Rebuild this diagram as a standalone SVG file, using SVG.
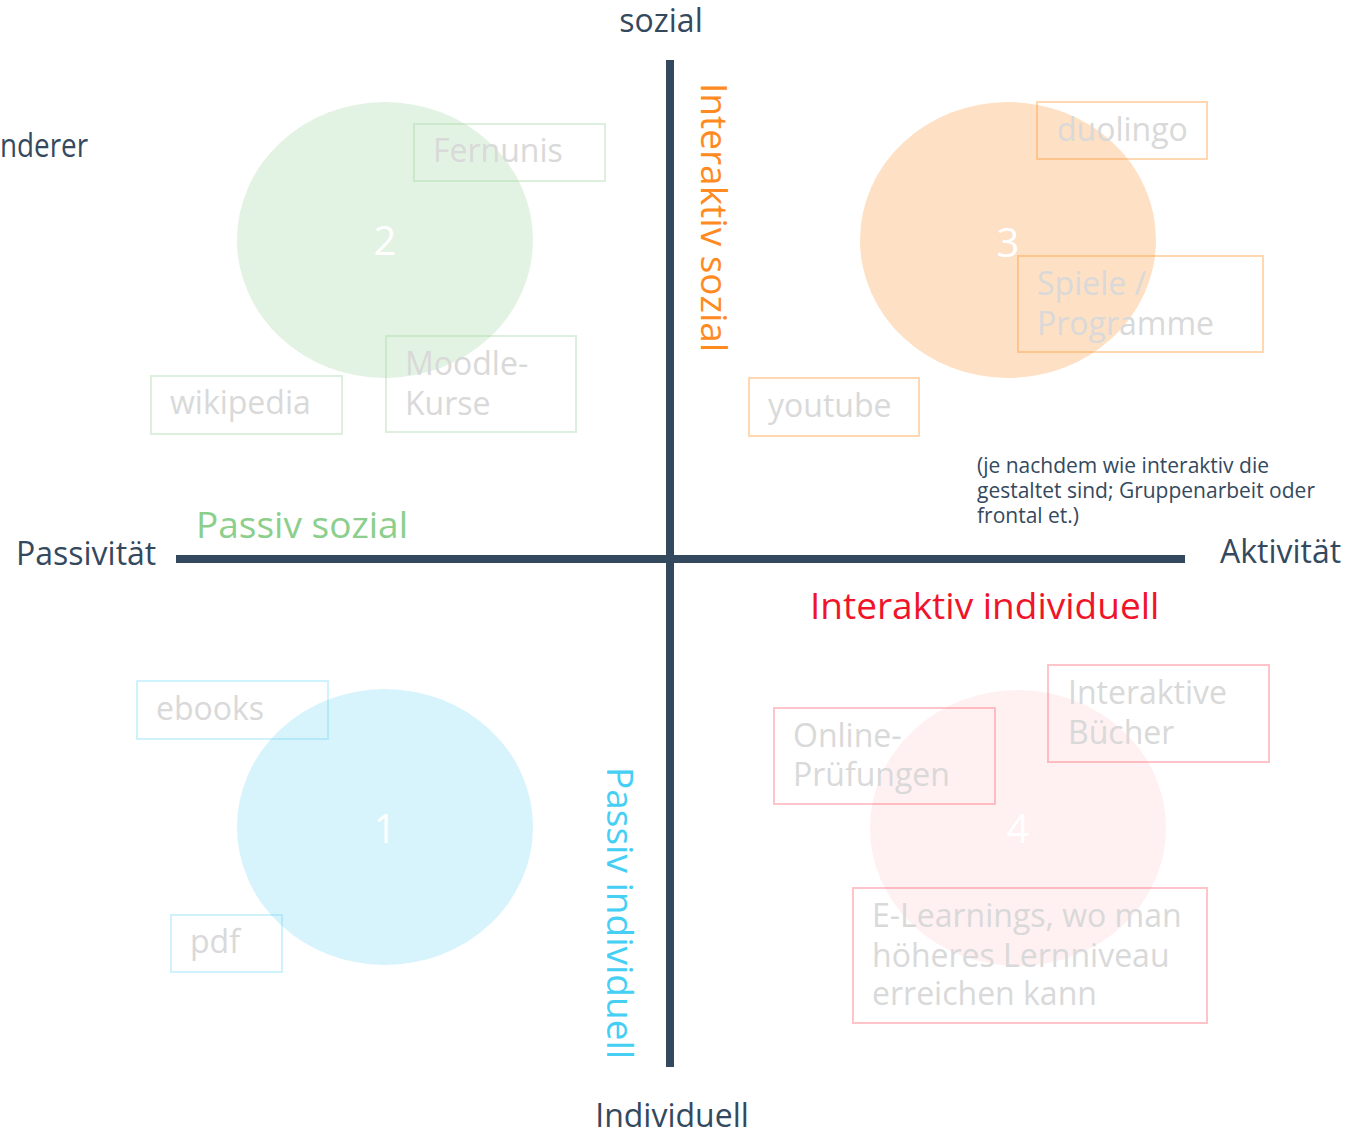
<svg xmlns="http://www.w3.org/2000/svg" width="1347" height="1136" viewBox="0 0 1347 1136">
<style>
text{font-family:"Open Sans","Noto Sans","Liberation Sans",sans-serif}
.lbl{font-size:32px;fill:#34495e}
.box{fill:none;stroke-width:2}
.bt{font-size:32px;fill:#d9d9d9}
.num{font-size:40px;fill:#ffffff;text-anchor:middle}
.q{font-size:37px}
.g{stroke:#9fd49f;stroke-opacity:0.35}
.o{stroke:#ff9a3c;stroke-opacity:0.4}
.p{stroke:#ff7a8a;stroke-opacity:0.45}
.c{stroke:#5fd3f5;stroke-opacity:0.3}
.axis{stroke:#34495e;stroke-width:8;fill:none}
</style>
<rect width="1347" height="1136" fill="#ffffff"/>

<g id="connectors">
<line class="axis" x1="670" y1="60" x2="670" y2="1067"/>
<line class="axis" x1="176" y1="559" x2="1185" y2="559"/>
</g>

<g id="axis-labels">
<text class="lbl" x="661" y="32" text-anchor="middle">sozial</text>
<text class="lbl" x="672" y="1127" text-anchor="middle">Individuell</text>
<text class="lbl" x="16" y="565">Passivität</text>
<text class="lbl" x="1220" y="563">Aktivität</text>
<text class="lbl" x="0" y="157" textLength="88" lengthAdjust="spacingAndGlyphs">nderer</text>
</g>

<g id="quadrant-labels">
<text class="q" x="196" y="538" fill="#8ccf8c">Passiv sozial</text>
<text class="q" x="810" y="619" fill="#f0142a">Interaktiv individuell</text>
<text class="q" transform="translate(701,83) rotate(90)" fill="#ff8a1f">Interaktiv sozial</text>
<text class="q" transform="translate(607,767) rotate(90)" fill="#45cff5">Passiv individuell</text>
</g>

<g id="note">
<text font-size="21" fill="#34495e" x="977"><tspan x="977" y="473">(je nachdem wie interaktiv die</tspan><tspan x="977" y="498">gestaltet sind; Gruppenarbeit oder</tspan><tspan x="977" y="523">frontal et.)</tspan></text>
</g>

<g id="circle-2">
<ellipse cx="385" cy="240" rx="148" ry="138" fill="#e3f3e3"/>
<text class="num" x="385" y="255">2</text>
</g>
<g id="circle-3">
<ellipse cx="1008" cy="240" rx="148" ry="138" fill="#fee0c5"/>
<text class="num" x="1008" y="257">3</text>
</g>
<g id="circle-1">
<ellipse cx="385" cy="827" rx="148" ry="138" fill="#d7f3fb"/>
<text class="num" x="385" y="843">1</text>
</g>
<g id="circle-4">
<ellipse cx="1018" cy="828" rx="148" ry="138" fill="#fff0f1"/>
<text class="num" x="1018" y="843">4</text>
</g>

<g id="box-fernunis">
<rect class="box g" x="414" y="124" width="191" height="57"/>
<text class="bt" x="433" y="162">Fernunis</text>
</g>
<g id="box-moodle">
<rect class="box g" x="386" y="336" width="190" height="96"/>
<text class="bt"><tspan x="405" y="375">Moodle-</tspan><tspan x="405" y="415">Kurse</tspan></text>
</g>
<g id="box-wikipedia">
<rect class="box g" x="151" y="376" width="191" height="58"/>
<text class="bt" x="170" y="414">wikipedia</text>
</g>

<g id="box-duolingo">
<rect class="box o" x="1037" y="102" width="170" height="57"/>
<text class="bt" x="1057" y="141">duolingo</text>
</g>
<g id="box-spiele">
<rect class="box o" x="1018" y="256" width="245" height="96"/>
<text class="bt"><tspan x="1037" y="295">Spiele /</tspan><tspan x="1037" y="335">Programme</tspan></text>
</g>
<g id="box-youtube">
<rect class="box o" x="749" y="378" width="170" height="58"/>
<text class="bt" x="768" y="417">youtube</text>
</g>

<g id="box-ebooks">
<rect class="box c" x="137" y="681" width="191" height="58"/>
<text class="bt" x="156" y="720">ebooks</text>
</g>
<g id="box-pdf">
<rect class="box c" x="171" y="915" width="111" height="57"/>
<text class="bt" x="190" y="953">pdf</text>
</g>

<g id="box-online">
<rect class="box p" x="774" y="708" width="221" height="96"/>
<text class="bt"><tspan x="793" y="747">Online-</tspan><tspan x="793" y="786">Prüfungen</tspan></text>
</g>
<g id="box-interaktive">
<rect class="box p" x="1048" y="665" width="221" height="97"/>
<text class="bt"><tspan x="1068" y="704">Interaktive</tspan><tspan x="1068" y="744">Bücher</tspan></text>
</g>
<g id="box-elearnings">
<rect class="box p" x="853" y="888" width="354" height="135"/>
<text class="bt"><tspan x="872" y="927">E-Learnings, wo man</tspan><tspan x="872" y="967">höheres Lernniveau</tspan><tspan x="872" y="1005">erreichen kann</tspan></text>
</g>
</svg>
